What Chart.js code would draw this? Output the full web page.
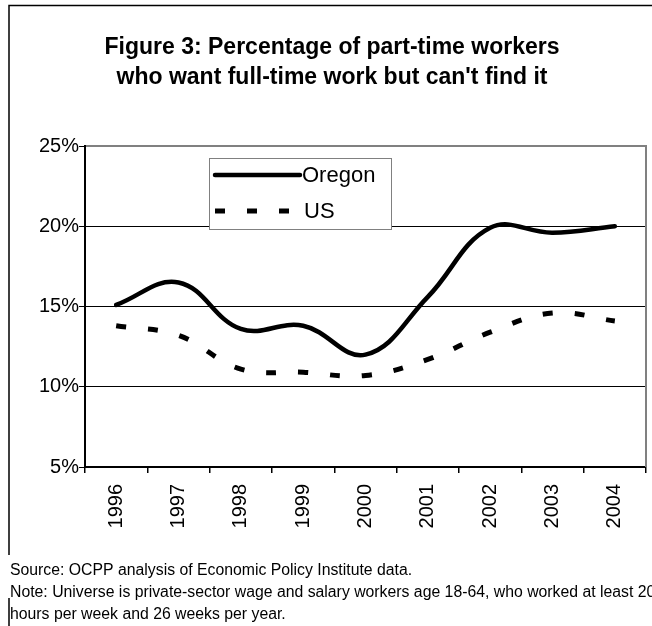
<!DOCTYPE html>
<html>
<head>
<meta charset="utf-8">
<script src="https://cdn.jsdelivr.net/npm/chart.js@4/dist/chart.umd.min.js"></script>
<style>
  html, body { margin: 0; padding: 0; background: #fff; }
  #wrap { position: relative; width: 652px; height: 626px; }
</style>
</head>
<body>
<div id="wrap"><canvas id="partTimeChart" width="652" height="626"></canvas></div>
<script>
const years = ['1996', '1997', '1998', '1999', '2000', '2001', '2002', '2003', '2004'];
const oregon = [15.1, 16.5, 13.6, 13.8, 12.0, 15.6, 19.9, 19.6, 20.0];
const us = [13.8, 13.2, 11.1, 10.9, 10.7, 11.7, 13.4, 14.6, 14.1];
const yTicks = [5, 10, 15, 20, 25];

const titleLines = [
    'Figure 3: Percentage of part-time workers',
    "who want full-time work but can't find it"
];
const notes = [
    'Source: OCPP analysis of Economic Policy Institute data.',
    'Note: Universe is private-sector wage and salary workers age 18-64, who worked at least 20',
    'hours per week and 26 weeks per year.'
];

const FONT = '"Liberation Sans", Arial, sans-serif';

// Outer frame, title, legend box and notes drawn around the chart
const framePlugin = {
    id: 'frame',
    beforeDraw(chart) {
        const ctx = chart.ctx;
        ctx.save();
        ctx.fillStyle = '#fff';
        ctx.fillRect(0, 0, chart.width, chart.height);

        ctx.strokeStyle = '#000';
        ctx.lineWidth = 1.5;
        ctx.beginPath();
        ctx.moveTo(9, 626);
        ctx.lineTo(9, 5.5);
        ctx.lineTo(652, 5.5);
        ctx.stroke();

        // title
        ctx.fillStyle = '#000';
        ctx.font = 'bold 23px ' + FONT;
        ctx.textAlign = 'center';
        ctx.textBaseline = 'alphabetic';
        ctx.fillText(titleLines[0], 332, 54);
        ctx.fillText(titleLines[1], 332, 84);

        // notes box
        ctx.fillStyle = '#fff';
        ctx.fillRect(8, 555, 644, 43);
        ctx.fillStyle = '#000';
        ctx.font = '15.8px ' + FONT;
        ctx.textAlign = 'left';
        ctx.fillText(notes[0], 10, 575);
        ctx.fillText(notes[1], 10, 597);
        ctx.fillText(notes[2], 10, 619);
        ctx.restore();
    },
    afterDraw(chart) {
        const ctx = chart.ctx;
        const a = chart.chartArea;
        ctx.save();

        // plot area border (top and right)
        ctx.strokeStyle = '#808080';
        ctx.lineWidth = 2;
        ctx.beginPath();
        ctx.moveTo(a.left + 1, a.top);
        ctx.lineTo(a.right, a.top);
        ctx.lineTo(a.right, a.bottom);
        ctx.stroke();

        // legend
        const lx = 209, ly = 158, lw = 182, lh = 71;
        ctx.fillStyle = '#fff';
        ctx.fillRect(lx, ly, lw, lh);
        ctx.strokeStyle = '#808080';
        ctx.lineWidth = 1;
        ctx.strokeRect(lx + 0.5, ly + 0.5, lw, lh);

        ctx.font = '22px ' + FONT;
        ctx.textAlign = 'left';
        ctx.textBaseline = 'middle';
        const rows = [175, 211];
        chart.data.datasets.forEach((ds, i) => {
            const y = rows[i];
            ctx.strokeStyle = ds.borderColor;
            ctx.lineWidth = ds.borderWidth;
            ctx.lineCap = ds.borderCapStyle;
            ctx.setLineDash(ds.borderDash || []);
            ctx.beginPath();
            ctx.moveTo(215, y);
            ctx.lineTo(ds.borderDash ? 296 : 300, y);
            ctx.stroke();
            ctx.setLineDash([]);
            ctx.fillStyle = '#000';
            ctx.fillText(ds.label, ds.borderDash ? 304 : 302, y + 1);
        });
        ctx.restore();
    }
};

new Chart(document.getElementById('partTimeChart'), {
    type: 'line',
    data: {
        labels: years,
        datasets: [{
            label: 'Oregon',
            data: oregon,
            borderColor: '#000',
            borderWidth: 4.5,
            borderCapStyle: 'round',
            tension: 0.4,
            pointRadius: 0,
            fill: false
        }, {
            label: 'US',
            data: us,
            borderColor: '#000',
            borderWidth: 5,
            borderCapStyle: 'butt',
            borderDash: [10, 22],
            tension: 0.4,
            pointRadius: 0,
            fill: false
        }]
    },
    options: {
        responsive: false,
        animation: false,
        devicePixelRatio: 1,
        layout: { padding: { top: 146, right: 6, bottom: 79, left: 0 } },
        plugins: {
            legend: { display: false },
            tooltip: { enabled: false }
        },
        scales: {
            x: {
                offset: true,
                grid: {
                    offset: true,
                    drawOnChartArea: false,
                    color: '#000',
                    tickLength: 6,
                    lineWidth: 1.5
                },
                border: { color: '#000', width: 2 },
                ticks: {
                    color: '#000',
                    font: { family: FONT, size: 20 },
                    minRotation: 90,
                    maxRotation: 90,
                    padding: 11,
                    autoSkip: false
                },
                afterFit(scale) { scale.height = 80; }
            },
            y: {
                min: 5,
                max: 25,
                afterBuildTicks(scale) {
                    scale.ticks = yTicks.map(v => ({ value: v }));
                },
                grid: { color: '#000', lineWidth: 1, tickLength: 6 },
                border: { color: '#000', width: 2 },
                ticks: {
                    color: '#000',
                    font: { family: FONT, size: 20 },
                    padding: 0,
                    callback: v => v + '%'
                },
                afterFit(scale) { scale.width = 85; }
            }
        }
    },
    plugins: [framePlugin]
});
</script>
</body>
</html>
